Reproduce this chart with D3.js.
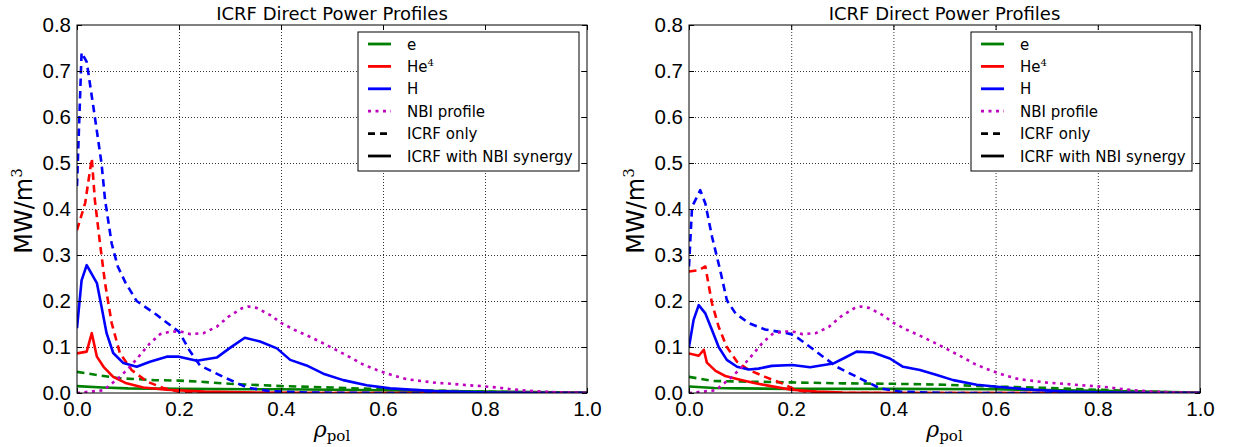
<!DOCTYPE html>
<html>
<head>
<meta charset="utf-8">
<script src="https://cdn.jsdelivr.net/npm/d3@7"></script>
<style>
  body { margin: 0; background: #fff; }
  svg { display: block; font-family: "DejaVu Sans", sans-serif; }
  .tick text { font-size: 20.5px; fill: #000; }
  .grid line { stroke: #000; stroke-width: 0.8; stroke-dasharray: 1,2; }
  .grid path { display: none; }
</style>
</head>
<body>
<div id="chart"></div>
<script>
// ── Data (rho_pol, MW/m^3) ───────────────────────────────────────────────
const xTicks = [0, 0.2, 0.4, 0.6, 0.8, 1.0];
const yTicks = [0, 0.1, 0.2, 0.3, 0.4, 0.5, 0.6, 0.7, 0.8];

const nbiProfile = [[0,0],[0.052,0.006],[0.084,0.035],[0.104,0.057],[0.124,0.083],[0.143,0.108],[0.163,0.128],[0.185,0.134],[0.205,0.133],[0.222,0.128],[0.248,0.13],[0.274,0.144],[0.297,0.166],[0.323,0.184],[0.336,0.188],[0.352,0.185],[0.378,0.17],[0.401,0.152],[0.427,0.137],[0.457,0.122],[0.483,0.108],[0.509,0.093],[0.535,0.078],[0.561,0.062],[0.588,0.05],[0.617,0.039],[0.646,0.03],[0.676,0.026],[0.705,0.022],[0.735,0.02],[0.764,0.017],[0.793,0.015],[0.823,0.012],[0.852,0.008],[0.882,0.005],[0.911,0.003],[0.94,0.0015],[1,0]];

// left panel
const eOnlyL = [[0,0.046],[0.039,0.039],[0.084,0.032],[0.15,0.028],[0.2,0.027],[0.235,0.025],[0.3,0.02],[0.4,0.015],[0.5,0.012],[0.6,0.008],[0.7,0.005],[0.8,0.003],[0.9,0.001],[1,0]];
const eSynL = [[0,0.015],[0.05,0.012],[0.1,0.01],[0.2,0.009],[0.4,0.008],[0.6,0.006],[0.8,0.003],[1,0.001]];
const heOnlyL = [[0,0.354],[0.016,0.413],[0.029,0.51],[0.035,0.42],[0.045,0.326],[0.055,0.239],[0.068,0.152],[0.084,0.087],[0.107,0.05],[0.137,0.025],[0.169,0.011],[0.2,0.003],[0.25,0.001],[0.35,0],[1,0]];
const heSynL = [[0,0.086],[0.019,0.09],[0.029,0.13],[0.039,0.079],[0.052,0.057],[0.071,0.035],[0.097,0.021],[0.13,0.012],[0.176,0.007],[0.25,0.003],[0.35,0.001],[0.5,0],[1,0]];
const hOnlyL = [[0,0.45],[0.009,0.74],[0.019,0.72],[0.027,0.66],[0.035,0.6],[0.048,0.5],[0.055,0.42],[0.068,0.325],[0.08,0.275],[0.095,0.24],[0.117,0.2],[0.156,0.17],[0.2,0.133],[0.222,0.09],[0.241,0.06],[0.287,0.035],[0.333,0.012],[0.378,0.004],[0.45,0.001],[0.6,0],[1,0]];
const hSynL = [[0,0.141],[0.009,0.245],[0.019,0.278],[0.039,0.239],[0.048,0.188],[0.058,0.13],[0.071,0.087],[0.091,0.065],[0.117,0.057],[0.143,0.068],[0.176,0.079],[0.2,0.079],[0.235,0.07],[0.274,0.077],[0.3,0.098],[0.329,0.12],[0.359,0.112],[0.392,0.097],[0.418,0.072],[0.45,0.06],[0.483,0.042],[0.522,0.028],[0.568,0.017],[0.614,0.01],[0.7,0.004],[0.8,0.001],[0.9,0],[1,0]];

// right panel
const eOnlyR = [[0,0.035],[0.048,0.026],[0.1,0.025],[0.2,0.023],[0.3,0.021],[0.4,0.02],[0.5,0.018],[0.6,0.014],[0.7,0.011],[0.8,0.007],[0.9,0.003],[1,0]];
const eSynR = [[0,0.014],[0.05,0.011],[0.1,0.01],[0.2,0.009],[0.4,0.009],[0.6,0.008],[0.8,0.005],[1,0.001]];
const heOnlyR = [[0,0.264],[0.019,0.267],[0.032,0.275],[0.038,0.238],[0.045,0.195],[0.058,0.144],[0.074,0.1],[0.094,0.068],[0.117,0.05],[0.149,0.035],[0.182,0.021],[0.208,0.007],[0.234,0.002],[0.3,0],[1,0]];
const heSynR = [[0,0.086],[0.019,0.081],[0.029,0.094],[0.035,0.066],[0.052,0.048],[0.071,0.037],[0.1,0.029],[0.13,0.021],[0.155,0.016],[0.2,0.007],[0.25,0.003],[0.3,0.001],[0.4,0],[1,0]];
const hOnlyR = [[0,0.275],[0.006,0.405],[0.016,0.427],[0.022,0.441],[0.032,0.412],[0.045,0.34],[0.061,0.267],[0.074,0.202],[0.091,0.173],[0.117,0.152],[0.149,0.138],[0.182,0.132],[0.2,0.128],[0.215,0.118],[0.243,0.095],[0.289,0.057],[0.334,0.032],[0.374,0.01],[0.413,0.003],[0.5,0],[1,0]];
const hSynR = [[0,0.1],[0.009,0.159],[0.019,0.191],[0.032,0.173],[0.045,0.137],[0.058,0.1],[0.074,0.072],[0.094,0.057],[0.117,0.051],[0.136,0.053],[0.162,0.059],[0.202,0.061],[0.237,0.056],[0.282,0.064],[0.302,0.075],[0.328,0.09],[0.36,0.088],[0.393,0.075],[0.419,0.057],[0.452,0.05],[0.485,0.039],[0.517,0.028],[0.563,0.018],[0.608,0.013],[0.674,0.007],[0.739,0.003],[0.8,0.0015],[0.9,0],[1,0]];

const legendItems = [
  { label: "e", color: "#008000", dash: null },
  { label: "He", sup: "4", color: "#ff0000", dash: null },
  { label: "H", color: "#0000ff", dash: null },
  { label: "NBI profile", color: "#bf00bf", dash: "3,4.5" },
  { label: "ICRF only", color: "#000", dash: "7,5" },
  { label: "ICRF with NBI synergy", color: "#000", dash: null },
];

// ── Setup ─────────────────────────────────────────────────────────────────
const W = 1236, H = 447;
const svg = d3.select("#chart").append("svg").attr("width", W).attr("height", H);

const DASH = "7.5,5", DOT = "3,4.5";

function drawPanel(id, x0, x1, series) {
  const top = 25, bottom = 393;
  const width = x1 - x0, height = bottom - top;

  const x = d3.scaleLinear().domain([0, 1]).range([0, width]);
  const y = d3.scaleLinear().domain([0, 0.8]).range([height, 0]);

  const g = svg.append("g").attr("transform", `translate(${x0},${top})`);

  svg.append("clipPath").attr("id", id)
    .append("rect").attr("x", 0).attr("y", 0).attr("width", width).attr("height", height);

  // grid
  g.append("g").attr("class", "grid")
    .call(d3.axisLeft(y).tickValues(yTicks.slice(1, -1)).tickSize(-width).tickFormat(""));
  g.append("g").attr("class", "grid")
    .attr("transform", `translate(0,${height})`)
    .call(d3.axisBottom(x).tickValues(xTicks.slice(1, -1)).tickSize(-height).tickFormat(""));

  // lines
  const line = d3.line().x((d) => x(d[0])).y((d) => y(d[1]));
  const lines = g.append("g").attr("clip-path", `url(#${id})`);
  series.forEach((s) => {
    lines.append("path")
      .datum(s.data)
      .attr("fill", "none")
      .attr("stroke", s.color)
      .attr("stroke-width", 2.6)
      .attr("stroke-dasharray", s.dash)
      .attr("stroke-linejoin", "round")
      .attr("d", line);
  });

  // axes (ticks inside)
  const ax = (sel) => sel.select(".domain").remove();
  g.append("g")
    .call(d3.axisLeft(y).tickValues(yTicks).tickSizeInner(-5).tickSizeOuter(0).tickPadding(6).tickFormat(d3.format(".1f")))
    .call(ax);
  g.append("g").attr("transform", `translate(0,${height})`)
    .call(d3.axisBottom(x).tickValues(xTicks).tickSizeInner(-5).tickSizeOuter(0).tickPadding(8).tickFormat(d3.format(".1f")))
    .call(ax);
  g.append("g").attr("transform", `translate(${width},0)`)
    .call(d3.axisRight(y).tickValues(yTicks).tickSizeInner(-5).tickSizeOuter(0).tickFormat(""))
    .call(ax);
  g.append("g")
    .call(d3.axisTop(x).tickValues(xTicks).tickSizeInner(-5).tickSizeOuter(0).tickFormat(""))
    .call(ax);
  g.selectAll(".tick line").attr("stroke", "#000").attr("stroke-width", 1);

  g.append("rect")
    .attr("width", width).attr("height", height)
    .attr("fill", "none").attr("stroke", "#000").attr("stroke-width", 1);

  // title
  g.append("text")
    .attr("x", width / 2).attr("y", -5)
    .attr("text-anchor", "middle")
    .style("font-size", "18px")
    .text("ICRF Direct Power Profiles");

  // y label
  const yl = g.append("text")
    .attr("transform", `translate(${-45},${height / 2 + 2}) rotate(-90)`)
    .attr("text-anchor", "middle")
    .style("font-size", "24px");
  yl.append("tspan").text("MW/m");
  yl.append("tspan").attr("dy", -10).style("font-size", "15px")
    .style("font-family", "DejaVu Serif").text("3");

  // x label
  const xl = g.append("text")
    .attr("x", width / 2).attr("y", height + 44)
    .attr("text-anchor", "middle")
    .style("font-family", "DejaVu Serif");
  xl.append("tspan").style("font-style", "italic").style("font-size", "22px").text("ρ");
  xl.append("tspan").attr("dy", 4).style("font-size", "15px").text("pol");

  // legend
  const lg = g.append("g").attr("transform", `translate(${width - 229},7)`);
  lg.append("rect")
    .attr("width", 221).attr("height", 139)
    .attr("fill", "#fff").attr("stroke", "#000").attr("stroke-width", 1);
  legendItems.forEach((d, i) => {
    const row = lg.append("g").attr("transform", `translate(0,${12 + i * 22.4})`);
    row.append("line")
      .attr("x1", 10).attr("x2", 33)
      .attr("stroke", d.color).attr("stroke-width", 2.8)
      .attr("stroke-dasharray", d.dash);
    const t = row.append("text").attr("x", 49).attr("y", 5.5).style("font-size", "15px");
    t.append("tspan").text(d.label);
    if (d.sup) {
      t.append("tspan").attr("dy", -6).style("font-size", "10px")
        .style("font-family", "DejaVu Serif").text(d.sup);
    }
  });
}

drawPanel("clipL", 77, 587, [
  { data: eOnlyL, color: "#008000", dash: DASH },
  { data: eSynL, color: "#008000", dash: null },
  { data: heOnlyL, color: "#ff0000", dash: DASH },
  { data: heSynL, color: "#ff0000", dash: null },
  { data: hOnlyL, color: "#0000ff", dash: DASH },
  { data: hSynL, color: "#0000ff", dash: null },
  { data: nbiProfile, color: "#bf00bf", dash: DOT },
]);

drawPanel("clipR", 689, 1200, [
  { data: eOnlyR, color: "#008000", dash: DASH },
  { data: eSynR, color: "#008000", dash: null },
  { data: heOnlyR, color: "#ff0000", dash: DASH },
  { data: heSynR, color: "#ff0000", dash: null },
  { data: hOnlyR, color: "#0000ff", dash: DASH },
  { data: hSynR, color: "#0000ff", dash: null },
  { data: nbiProfile, color: "#bf00bf", dash: DOT },
]);
</script>
</body>
</html>
